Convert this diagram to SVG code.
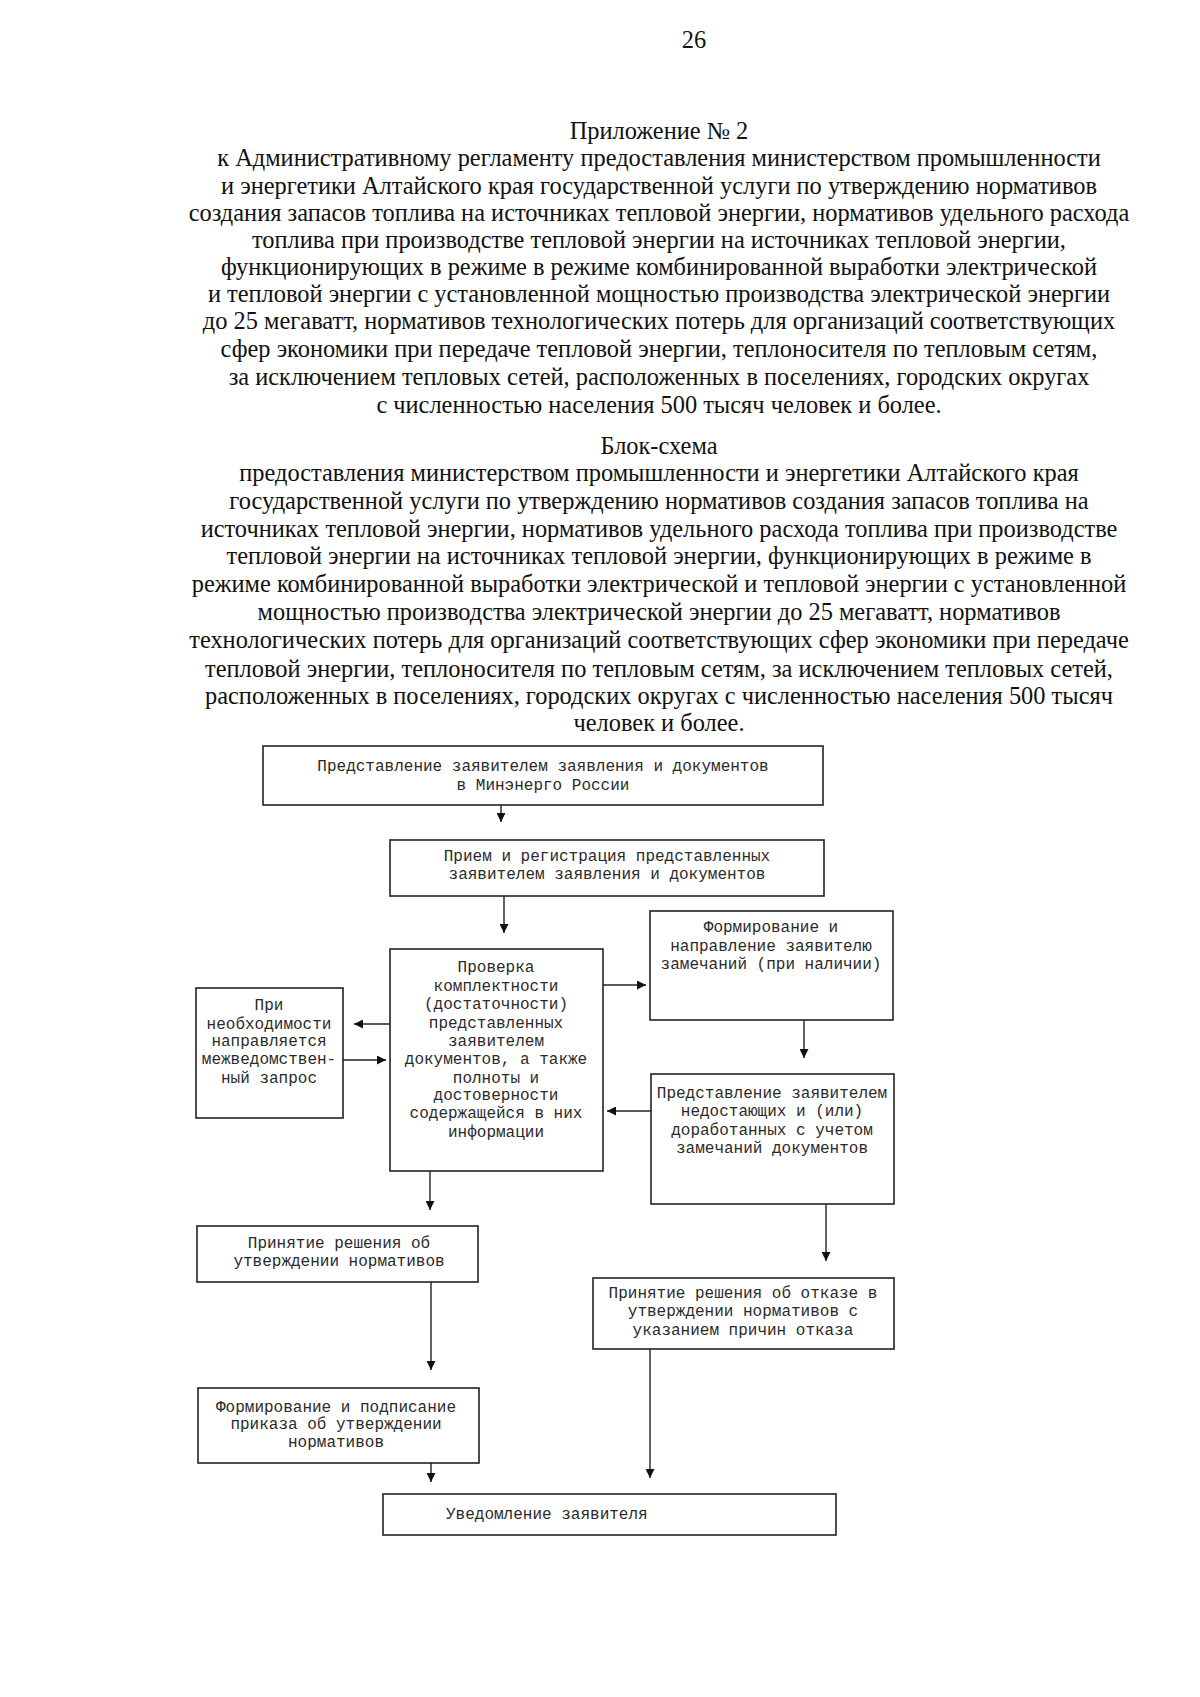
<svg xmlns="http://www.w3.org/2000/svg" width="1200" height="1697" viewBox="0 0 1200 1697">
<defs>
<style>
.hd{font-family:"Liberation Serif","Times New Roman",serif;font-size:24.4px;fill:#111;text-anchor:middle}
.bx{fill:#fff;stroke:#222;stroke-width:1.6}
.t{font-family:"Liberation Mono","Courier New",monospace;font-size:16px;fill:#2a2a2a;text-anchor:middle}
.tl{font-family:"Liberation Mono","Courier New",monospace;font-size:16px;fill:#2a2a2a}
.c{stroke:#222;stroke-width:1.4;fill:none}
</style>
<marker id="ah" viewBox="0 0 10 10" refX="10" refY="5" markerWidth="9" markerHeight="9" markerUnits="userSpaceOnUse" orient="auto">
<path d="M0,0 L10,5 L0,10 Z" fill="#111"/>
</marker>
</defs>
<rect width="1200" height="1697" fill="#fff"/>
<g id="header">
<text class="hd" x="694" y="48">26</text>
<text class="hd" x="659" y="139">Приложение № 2</text>
<text class="hd" x="659" y="166">к Административному регламенту предоставления министерством промышленности</text>
<text class="hd" x="659" y="194">и энергетики Алтайского края государственной услуги по утверждению нормативов</text>
<text class="hd" x="659" y="221">создания запасов топлива на источниках тепловой энергии, нормативов удельного расхода</text>
<text class="hd" x="659" y="248">топлива при производстве тепловой энергии на источниках тепловой энергии,</text>
<text class="hd" x="659" y="275">функционирующих в режиме в режиме комбинированной выработки электрической</text>
<text class="hd" x="659" y="302">и тепловой энергии с установленной мощностью производства электрической энергии</text>
<text class="hd" x="659" y="329">до 25 мегаватт, нормативов технологических потерь для организаций соответствующих</text>
<text class="hd" x="659" y="357">сфер экономики при передаче тепловой энергии, теплоносителя по тепловым сетям,</text>
<text class="hd" x="659" y="385">за исключением тепловых сетей, расположенных в поселениях, городских округах</text>
<text class="hd" x="659" y="413">с численностью населения 500 тысяч человек и более.</text>
<text class="hd" x="659" y="454">Блок-схема</text>
<text class="hd" x="659" y="481">предоставления министерством промышленности и энергетики Алтайского края</text>
<text class="hd" x="659" y="509">государственной услуги по утверждению нормативов создания запасов топлива на</text>
<text class="hd" x="659" y="537">источниках тепловой энергии, нормативов удельного расхода топлива при производстве</text>
<text class="hd" x="659" y="564">тепловой энергии на источниках тепловой энергии, функционирующих в режиме в</text>
<text class="hd" x="659" y="592">режиме комбинированной выработки электрической и тепловой энергии с установленной</text>
<text class="hd" x="659" y="620">мощностью производства электрической энергии до 25 мегаватт, нормативов</text>
<text class="hd" x="659" y="648">технологических потерь для организаций соответствующих сфер экономики при передаче</text>
<text class="hd" x="659" y="677">тепловой энергии, теплоносителя по тепловым сетям, за исключением тепловых сетей,</text>
<text class="hd" x="659" y="704">расположенных в поселениях, городских округах с численностью населения 500 тысяч</text>
<text class="hd" x="659" y="731">человек и более.</text>
</g>
<g id="connectors">
<line class="c" x1="501" y1="805" x2="501" y2="822" marker-end="url(#ah)"/>
<line class="c" x1="504" y1="896" x2="504" y2="933" marker-end="url(#ah)"/>
<line class="c" x1="390" y1="1024" x2="354" y2="1024" marker-end="url(#ah)"/>
<line class="c" x1="343" y1="1060" x2="386" y2="1060" marker-end="url(#ah)"/>
<line class="c" x1="603" y1="985" x2="646" y2="985" marker-end="url(#ah)"/>
<line class="c" x1="804" y1="1020" x2="804" y2="1058" marker-end="url(#ah)"/>
<line class="c" x1="651" y1="1111" x2="607" y2="1111" marker-end="url(#ah)"/>
<line class="c" x1="430" y1="1171" x2="430" y2="1210" marker-end="url(#ah)"/>
<line class="c" x1="826" y1="1204" x2="826" y2="1261" marker-end="url(#ah)"/>
<line class="c" x1="431" y1="1282" x2="431" y2="1370" marker-end="url(#ah)"/>
<line class="c" x1="431" y1="1463" x2="431" y2="1482" marker-end="url(#ah)"/>
<line class="c" x1="650" y1="1349" x2="650" y2="1478" marker-end="url(#ah)"/>
</g>
<g id="n1">
<rect class="bx" x="263" y="746" width="560" height="59"/>
<text class="t" x="543" y="771">Представление заявителем заявления и документов</text>
<text class="t" x="543" y="790">в Минэнерго России</text>
</g>
<g id="n2">
<rect class="bx" x="390" y="840" width="434" height="56"/>
<text class="t" x="607" y="861">Прием и регистрация представленных</text>
<text class="t" x="607" y="879">заявителем заявления и документов</text>
</g>
<g id="n3">
<rect class="bx" x="390" y="949" width="213" height="222"/>
<text class="t" x="496" y="972">Проверка</text>
<text class="t" x="496" y="991">комплектности</text>
<text class="t" x="496" y="1009">(достаточности)</text>
<text class="t" x="496" y="1028">представленных</text>
<text class="t" x="496" y="1046">заявителем</text>
<text class="t" x="496" y="1064">документов, а также</text>
<text class="t" x="496" y="1083">полноты и</text>
<text class="t" x="496" y="1100">достоверности</text>
<text class="t" x="496" y="1118">содержащейся в них</text>
<text class="t" x="496" y="1137">информации</text>
</g>
<g id="n4">
<rect class="bx" x="196" y="988" width="147" height="130"/>
<text class="t" x="269" y="1010">При</text>
<text class="t" x="269" y="1029">необходимости</text>
<text class="t" x="269" y="1046">направляется</text>
<text class="t" x="269" y="1064">межведомствен-</text>
<text class="t" x="269" y="1083">ный запрос</text>
</g>
<g id="n5">
<rect class="bx" x="650" y="911" width="243" height="109"/>
<text class="t" x="771" y="932">Формирование и</text>
<text class="t" x="771" y="951">направление заявителю</text>
<text class="t" x="771" y="969">замечаний (при наличии)</text>
</g>
<g id="n6">
<rect class="bx" x="651" y="1074" width="243" height="130"/>
<text class="t" x="772" y="1098">Представление заявителем</text>
<text class="t" x="772" y="1116">недостающих и (или)</text>
<text class="t" x="772" y="1135">доработанных с учетом</text>
<text class="t" x="772" y="1153">замечаний документов</text>
</g>
<g id="n7">
<rect class="bx" x="197" y="1226" width="281" height="56"/>
<text class="t" x="339" y="1248">Принятие решения об</text>
<text class="t" x="339" y="1266">утверждении нормативов</text>
</g>
<g id="n8">
<rect class="bx" x="593" y="1278" width="301" height="71"/>
<text class="t" x="743" y="1298">Принятие решения об отказе в</text>
<text class="t" x="743" y="1316">утверждении нормативов с</text>
<text class="t" x="743" y="1335">указанием причин отказа</text>
</g>
<g id="n9">
<rect class="bx" x="198" y="1388" width="281" height="75"/>
<text class="t" x="336" y="1412">Формирование и подписание</text>
<text class="t" x="336" y="1429">приказа об утверждении</text>
<text class="t" x="336" y="1447">нормативов</text>
</g>
<g id="n10">
<rect class="bx" x="383" y="1494" width="453" height="41"/>
<text class="tl" x="446" y="1519">Уведомление заявителя</text>
</g>
</svg>
